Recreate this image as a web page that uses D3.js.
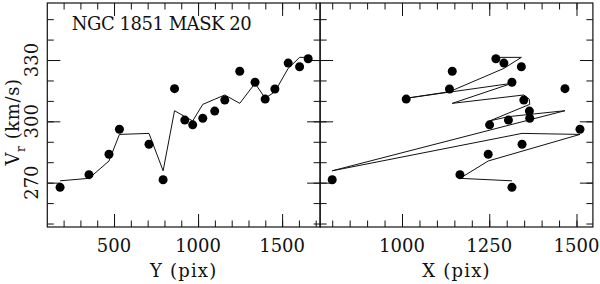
<!DOCTYPE html>
<html>
<head>
<meta charset="utf-8">
<script src="https://cdn.jsdelivr.net/npm/d3@7"></script>
<style>
    body { margin: 0; background: #fff; }
    svg text { font-family: "DejaVu Serif", "Liberation Serif", serif; fill: #111; }
</style>
</head>
<body>
<div id="graph"></div>
<script>

// stars, sorted by Y
const yPix  = [179, 351, 470, 532, 708, 792, 860, 921, 968, 1028, 1099, 1159, 1248, 1339, 1399, 1457, 1536, 1604, 1655];
const xPix  = [1315, 1166, 1247, 1510, 1344, 800, 1467, 1305, 1251, 1366, 1365, 1349, 1144, 1315, 1012, 1136, 1292, 1342, 1269];
const vr    = [267.7, 273.9, 283.9, 296.1, 288.8, 271.4, 316.0, 300.6, 298.3, 301.5, 305.0, 310.4, 324.5, 319.1, 310.9, 315.8, 328.5, 326.7, 330.6];
const vrFit = [270.9, 272.1, 280.6, 293.6, 294.1, 275.8, 305.2, 302.3, 300.2, 308.3, 310.8, 312.9, 308.8, 318.6, 311.3, 314.5, 325.9, 331.3, 331.3];

// ticks
const yTicksMinor = d3.range(250, 351, 10);
const yTicksMajor = [270, 300, 330];
const leftTicksMinor = d3.range(200, 1701, 100);
const leftTicksMajor = [500, 1000, 1500];
const rightTicksMinor = d3.range(800, 1501, 50);
const rightTicksMajor = [1000, 1250, 1500];

const title = "NGC 1851 MASK 20";

let vis = {};

// margin convention
vis.margin = {top: 3, right: 7, bottom: 57, left: 47.3};
vis.panelW = 272.8;
vis.height = 284 - vis.margin.top - vis.margin.bottom;

vis.yScale = d3.scaleLinear()
    .domain([248.3, 357.9])
    .range([vis.height, 0]);

vis.xLeft = d3.scaleLinear()
    .domain([103, 1726])
    .range([0, vis.panelW]);

vis.xRight = d3.scaleLinear()
    .domain([765.3, 1547])
    .range([0, vis.panelW]);

vis.svg = d3.select("#graph").append("svg")
    .attr("width", 600)
    .attr("height", 284)
    .append("g")
    .attr("transform", "translate(" + vis.margin.left + "," + vis.margin.top + ")");

function drawPanel(g, xScale, xMinor, xMajor, xs, label) {

    // ticks on all four sides, pointing inward
    const sides = [
        {axis: d3.axisBottom(xScale), tr: "translate(0," + vis.height + ")", minor: xMinor, major: xMajor},
        {axis: d3.axisTop(xScale), tr: "translate(0,0)", minor: xMinor, major: xMajor},
        {axis: d3.axisLeft(vis.yScale), tr: "translate(0,0)", minor: yTicksMinor, major: yTicksMajor},
        {axis: d3.axisRight(vis.yScale), tr: "translate(" + vis.panelW + ",0)", minor: yTicksMinor, major: yTicksMajor}
    ];
    sides.forEach(function(s) {
        [[s.minor, -6.5], [s.major, -13]].forEach(function(t) {
            let a = g.append("g")
                .attr("transform", s.tr)
                .call(s.axis.tickValues(t[0]).tickSize(t[1]).tickFormat(""));
            a.select(".domain").remove();
            a.selectAll("line").attr("stroke", "#111").attr("stroke-width", 1);
        });
    });

    // frame
    g.append("rect")
        .attr("width", vis.panelW)
        .attr("height", vis.height)
        .attr("fill", "none")
        .attr("stroke", "#111")
        .attr("stroke-width", 1.2);

    // x tick labels
    g.selectAll(".xlab")
        .data(xMajor)
        .enter().append("text")
        .attr("x", function(d) { return xScale(d); })
        .attr("y", 249)
        .attr("text-anchor", "middle")
        .attr("font-size", 18)
        .text(function(d) { return d; });

    g.append("text")
        .attr("x", vis.panelW / 2)
        .attr("y", 274)
        .attr("text-anchor", "middle")
        .attr("font-size", 18)
        .attr("letter-spacing", 1.2)
        .text(label);

    // model line
    let line = d3.line()
        .x(function(d, i) { return xScale(xs[i]); })
        .y(function(d) { return vis.yScale(d); });

    g.append("path")
        .datum(vrFit)
        .attr("fill", "none")
        .attr("stroke", "#111")
        .attr("stroke-width", 1)
        .attr("d", line);

    // stars
    g.selectAll(".dot")
        .data(vr)
        .enter().append("circle")
        .attr("cx", function(d, i) { return xScale(xs[i]); })
        .attr("cy", function(d) { return vis.yScale(d); })
        .attr("r", 4.5)
        .attr("fill", "#000");
}

let left = vis.svg.append("g");
drawPanel(left, vis.xLeft, leftTicksMinor, leftTicksMajor, yPix, "Y (pix)");

let right = vis.svg.append("g").attr("transform", "translate(" + vis.panelW + ",0)");
drawPanel(right, vis.xRight, rightTicksMinor, rightTicksMajor, xPix, "X (pix)");

// y tick labels, rotated
vis.svg.selectAll(".ylab")
    .data(yTicksMajor)
    .enter().append("text")
    .attr("transform", function(d) { return "translate(" + (37.5 - vis.margin.left) + "," + vis.yScale(d) + ") rotate(-90)"; })
    .attr("text-anchor", "middle")
    .attr("font-size", 18)
    .text(function(d) { return d; });

// y axis title
let yt = vis.svg.append("text")
    .attr("transform", "translate(" + (18.5 - vis.margin.left) + ",119) rotate(-90)")
    .attr("text-anchor", "middle")
    .attr("font-size", 18)
    .attr("letter-spacing", 0.6);
yt.append("tspan").text("V");
yt.append("tspan").attr("font-size", 12).attr("dy", 6).text("r");
yt.append("tspan").attr("dy", -6).text(" (km/s)");

// panel title
vis.svg.append("text")
    .attr("x", 71.7 - vis.margin.left)
    .attr("y", 30 - vis.margin.top)
    .attr("font-size", 18)
    .attr("textLength", 180)
    .text(title);

</script>
</body>
</html>
